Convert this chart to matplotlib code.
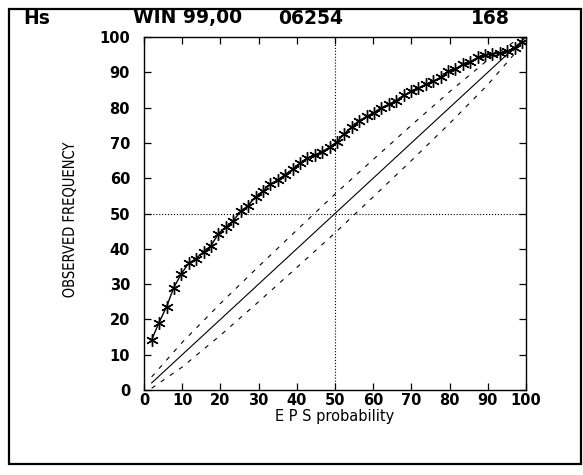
import matplotlib
matplotlib.use("Agg")
import matplotlib.pyplot as plt
import matplotlib.transforms as mtransforms
from matplotlib.patches import Rectangle, PathPatch
from matplotlib.textpath import TextPath
from matplotlib.font_manager import FontProperties

# forecast probability (%) and observed frequency (%) for each class
eps_prob = [2.0, 3.9, 5.9, 7.8, 9.8, 11.7, 13.6, 15.6, 17.5, 19.5,
            21.4, 23.3, 25.3, 27.2, 29.2, 31.1, 33.0, 35.0, 36.9, 38.9,
            40.8, 42.7, 44.7, 46.6, 48.6, 50.5, 52.4, 54.4, 56.3, 58.3,
            60.2, 62.1, 64.1, 66.0, 68.0, 69.9, 71.8, 73.8, 75.7, 77.7,
            79.6, 81.5, 83.5, 85.4, 87.4, 89.3, 91.2, 93.2, 95.1, 97.1,
            99.0]
obs_freq = [14.2, 19.0, 23.6, 29.0, 33.0, 35.9, 37.2, 39.2, 40.8, 44.3,
            46.1, 47.9, 50.6, 52.2, 54.7, 56.3, 58.3, 59.5, 61.0, 62.5,
            64.2, 65.7, 66.6, 67.5, 68.8, 70.3, 72.5, 74.6, 76.3, 77.5,
            78.6, 80.0, 80.9, 82.0, 83.5, 84.6, 85.5, 86.6, 87.4, 88.6,
            90.3, 91.0, 92.3, 93.0, 94.2, 94.8, 95.2, 95.4, 96.0, 96.8,
            98.5]

# perfect reliability and its confidence band
diag = [2, 100]
band_x = [2, 10, 20, 30, 40, 50, 60, 70, 80, 90, 98]
band_hi = [3.7, 13.5, 24.5, 35.0, 45.3, 55.5, 65.3, 75.0, 84.5, 93.5, 99.5]
band_lo = [0.5, 6.5, 15.5, 25.0, 34.7, 44.5, 54.7, 65.0, 75.5, 86.5, 96.5]

ticks = [0, 10, 20, 30, 40, 50, 60, 70, 80, 90, 100]
header = ["Hs", "WIN 99,00", "06254", "168"]
header_x = [37, 188, 311, 490]

W, H = 583, 475
fig = plt.figure(figsize=(W / 100, H / 100), dpi=100)
fig.patch.set_facecolor("white")

# outer box
fig.patches.append(Rectangle((9 / W, 1 - 464 / H), 572 / W, 455 / H,
                             transform=fig.transFigure, fill=False,
                             edgecolor="black", linewidth=1.6))

ax = fig.add_axes([144 / W, 1 - 390 / H, 382 / W, 353 / H])

ax.plot([50, 50], [0, 100], color="black", linestyle=":", linewidth=0.8)
ax.plot([0, 100], [50, 50], color="black", linestyle=":", linewidth=0.8)

ax.plot(diag, diag, color="black", linewidth=0.8)
ax.plot(band_x, band_hi, color="black", linewidth=0.8, dashes=(4, 6))
ax.plot(band_x, band_lo, color="black", linewidth=0.8, dashes=(4, 6))

ax.plot(eps_prob, obs_freq, color="black", linewidth=1.0,
        marker=(6, 2, 0), markersize=9, markeredgewidth=1.0)

ax.set_xlim(0, 100)
ax.set_ylim(0, 100)
ax.set_xticks(ticks)
ax.set_yticks(ticks)
ax.set_xticklabels([str(t) for t in ticks], fontsize=10.5, fontweight="bold")
ax.set_yticklabels([str(t) for t in ticks], fontsize=10.5, fontweight="bold")
ax.tick_params(direction="in", length=5, width=0.9, top=True, right=True)
ax.tick_params(axis="x", pad=2)
ax.tick_params(axis="y", pad=10)
for s in ax.spines.values():
    s.set_linewidth(1.0)

for txt, xp in zip(header, header_x):
    fig.text(xp / W, 1 - 18 / H, txt, ha="center", va="center",
             fontsize=13.5, fontweight="bold")

# narrow y label: squeeze a text path horizontally, then stand it up
tp = TextPath((0, 0), "OBSERVED FREQUENCY", size=20,
              prop=FontProperties(family="DejaVu Sans"))
bb = tp.get_extents()
sx = 155 / bb.width
sy = 14 / bb.height
tr = (mtransforms.Affine2D()
      .translate(-(bb.x0 + bb.width / 2), -(bb.y0 + bb.height / 2))
      .scale(sx, sy)
      .rotate_deg(90)
      .translate(69, H - 220))
fig.add_artist(PathPatch(tp, transform=tr, facecolor="black",
                         edgecolor="none"))

fig.text(335 / W, 1 - 417 / H, "E P S probability", ha="center",
         va="center", fontsize=10.5)

fig.savefig("out.png", dpi=100)
